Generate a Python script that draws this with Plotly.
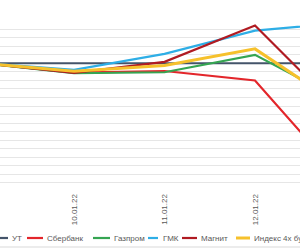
import plotly.graph_objects as go

dates = ["09.01.22", "10.01.22", "11.01.22", "12.01.22", "13.01.22"]
series_names = ["УТ", "Сбербанк", "Газпром", "ГМК", "Магнит", "Индекс 4х бумаг"]
ut = [0.0, 0.0, 0.0, 0.0, 0.0]
sber = [0.0, -1.09, -0.91, -2.02, -14.0]
gazprom = [0.0, -1.17, -1.05, 0.98, -4.6]
gmk = [0.0, -0.77, 1.10, 3.82, 4.76]
magnit = [0.0, -1.12, 0.16, 4.41, -6.18]
index4 = [0.0, -0.94, -0.27, 1.68, -5.37]

values = [ut, sber, gazprom, gmk, magnit, index4]
colors = ["#44546a", "#e3262b", "#35a552", "#2eaee6", "#b01b22", "#f6c12c"]
widths = [2.2, 2.2, 2.2, 2.2, 2.2, 3.0]

fig = go.Figure()
for name, vals, c, w in zip(series_names, values, colors, widths):
    fig.add_trace(go.Scatter(x=dates, y=vals, name=name, mode="lines",
                             line=dict(color=c, width=w), showlegend=False))

W, H = 300, 250
fig.update_layout(
    width=W, height=H, template="none",
    margin=dict(l=0, r=0, t=0, b=0),
    paper_bgcolor="white", plot_bgcolor="white",
    showlegend=False,
)
fig.update_xaxes(type="category", range=[0.182, 3.497], showgrid=False, zeroline=False,
                 showline=False, ticks="", tickangle=-90, automargin=False,
                 tickfont=dict(family="Liberation Sans, Arial", size=8, color="#595959"),
                 domain=[0, 1])
fig.update_yaxes(range=[-15, 5], dtick=1, showgrid=True, gridcolor="#e6e6e6", gridwidth=1,
                 zeroline=False, showline=False, showticklabels=False, ticks="",
                 automargin=False, domain=[1 - 191.5 / H, 1 - 20.5 / H])

# manual legend
leg_y = 1 - 238 / H
leg_items = [(-6, 8, 10), (27, 43, 45), (93, 110, 112), (148, 158, 161), (182, 197, 199), (236, 250, 252)]
for (x0, x1, tx), name, c, w in zip(leg_items, series_names, colors, widths):
    fig.add_shape(type="line", xref="paper", yref="paper", x0=x0 / W, x1=x1 / W,
                  y0=leg_y, y1=leg_y, line=dict(color=c, width=w))
    fig.add_annotation(xref="paper", yref="paper", x=tx / W, y=leg_y, text=name,
                       showarrow=False, xanchor="left", yanchor="middle",
                       font=dict(family="Liberation Sans, Arial", size=8, color="#595959"))

fig.add_shape(type="line", xref="paper", yref="paper", x0=0, x1=1,
              y0=1 - 247 / H, y1=1 - 247 / H, line=dict(color="#d9d9d9", width=1))

fig.write_html("out.html")
